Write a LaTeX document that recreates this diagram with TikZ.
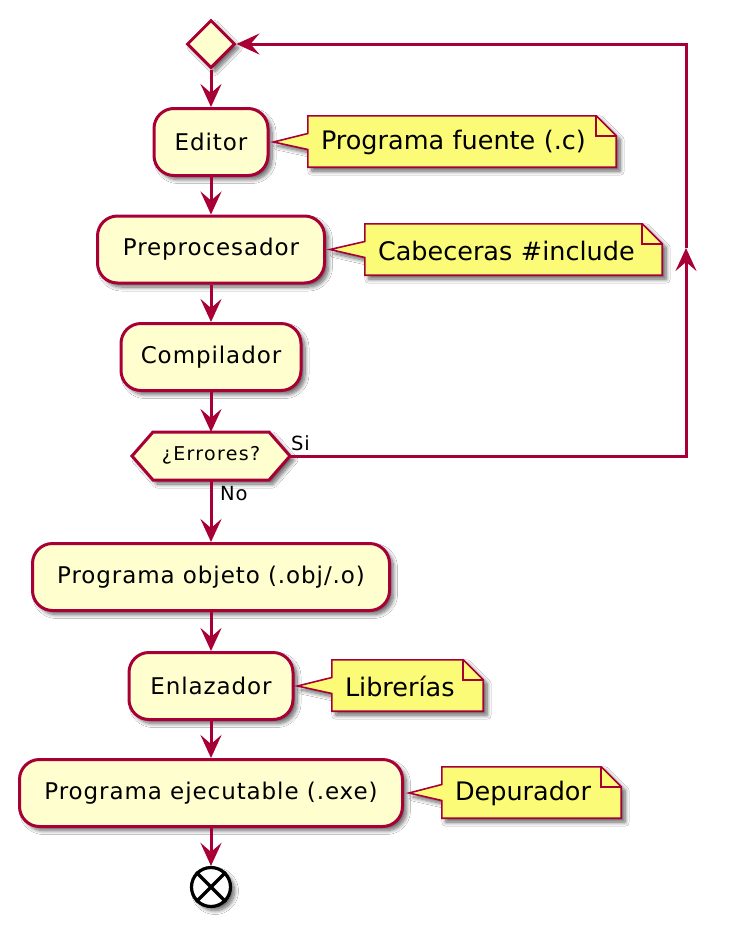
\documentclass[tikz,border=0pt]{standalone}
\usepackage{fontspec}
\setmainfont{DejaVu Sans}
\newfontfamily\boxfont[LetterSpace=4]{DejaVu Sans}
\newfontfamily\hexfont[LetterSpace=7]{DejaVu Sans}
\usetikzlibrary{arrows.meta,shapes.geometric,shadows.blur,calc}
\definecolor{pumlred}{HTML}{A80036}
\definecolor{boxfill}{HTML}{FEFECE}
\definecolor{notefill}{HTML}{FBFB77}
\tikzset{
  shd/.style={blur shadow={shadow xshift=4pt,shadow yshift=-4pt,shadow blur steps=8,shadow opacity=60,shadow blur radius=4pt}},
  actbox/.style={draw=pumlred,fill=boxfill,line width=3pt,rounded corners=20pt,minimum height=67pt,inner sep=0pt,shd,font=\boxfont\fontsize{23}{27}\selectfont},
  notetext/.style={inner xsep=13pt,inner ysep=0pt,align=left,font=\fontsize{25.5}{30}\selectfont},
  noteframe/.style={draw=pumlred,fill=notefill,line width=1.6pt,line join=miter,shd},
  flow/.style={draw=pumlred,line width=3pt,-{Stealth[length=23pt,width=21pt,inset=9pt]}},
  lbl/.style={inner sep=0pt,font=\boxfont\fontsize{19.5}{23}\selectfont},
}
\newcommand{\mynote}[3]{% #1 note node, #2 box node, #3 tip xshift
  \path[noteframe] (#1.north west) -- ($(#1.north east)+(-20,0)$) -- ($(#1.north east)+(0,20)$)
    -- (#1.south east) -- (#1.south west) -- ($(#1.west)+(0,8)$) -- ($(#2.east)+(#3,0)$)
    -- ($(#1.west)+(0,-8)$) -- cycle;
  \draw[pumlred,line width=1.6pt,line join=miter] ($(#1.north east)+(-20,0)$) -- ($(#1.north east)+(-20,20)$) -- ($(#1.north east)+(0,20)$);
  \node[notetext,text width=\notew,minimum height=51pt] at ($(#1.center)+(0,1)$) {\notetxt};
}
\begin{document}
\begin{tikzpicture}[x=1pt,y=-1pt]
\useasboundingbox[fill=white] (0,0) rectangle (736,927);
% start diamond
\node[diamond,draw=pumlred,fill=boxfill,line width=3pt,minimum width=48pt,minimum height=48pt,inner sep=0pt,shd] (start) at (211,44) {};
% activities
\node[actbox,minimum width=114pt] (editor) at (211,142) {Editor};
\node[actbox,minimum width=227pt] (prep) at (211,249.5) {Preprocesador};
\node[actbox,minimum width=180pt] (comp) at (211,357) {Compilador};
% hexagon
\coordinate (hexL) at (132,456);
\coordinate (hexR) at (290,456);
\coordinate (hexT) at (211,432);
\coordinate (hexB) at (211,480);
\path[draw=pumlred,fill=boxfill,line width=3pt,line join=miter,shd] (hexL) -- (153,432) -- (269,432) -- (hexR) -- (269,480) -- (153,480) -- cycle;
\node[inner sep=0pt,font=\hexfont\fontsize{19}{22}\selectfont] (err) at (211,455) {¿Errores?};
\node[actbox,minimum width=357pt] (obj) at (211,577) {Programa objeto (.obj/.o)};
\node[actbox,minimum width=164pt] (enl) at (211,686) {Enlazador};
\node[actbox,minimum width=383pt] (exe) at (211,793) {Programa ejecutable (.exe)};
% end
\node[circle,draw=black,fill=white,line width=3.2pt,minimum size=39pt,inner sep=0pt,shd] (end) at (211,887) {};
\draw[black,line width=3.4pt] (end.45) -- (end.225) (end.135) -- (end.315);
% notes (frames, named nodes)
\node[minimum width=308pt,minimum height=51pt,inner sep=0pt] (n1) at (462,141.5) {};
\node[minimum width=297pt,minimum height=51pt,inner sep=0pt] (n2) at (513.5,249.5) {};
\node[minimum width=151pt,minimum height=51pt,inner sep=0pt] (n3) at (407.5,685.5) {};
\node[minimum width=179pt,minimum height=51pt,inner sep=0pt] (n4) at (531.5,792.5) {};
\def\notew{282pt}\def\notetxt{Programa fuente (.c)}\mynote{n1}{editor}{4}
\def\notew{271pt}\def\notetxt{Cabeceras \#include}\mynote{n2}{prep}{4}
\def\notew{125pt}\def\notetxt{Librerías}\mynote{n3}{enl}{3}
\def\notew{153pt}\def\notetxt{Depurador}\mynote{n4}{exe}{5}
% connectors
\draw[flow] (start.south) -- (editor.north);
\draw[flow] (editor.south) -- (prep.north);
\draw[flow] (prep.south) -- (comp.north);
\draw[flow] (comp.south) -- (hexT);
\draw[flow] (hexB) -- (obj.north);
\draw[flow] (obj.south) -- (enl.north);
\draw[flow] (enl.south) -- (exe.north);
\draw[flow] (exe.south) -- (end.north);
% loop
\coordinate (loopA) at (686,456);
\coordinate (loopM) at (686,248);
\coordinate (loopB) at (686,44);
\draw[flow] (hexR) -- (loopA) -- (loopM);
\draw[flow,line join=miter] (loopM) -- (loopB) -- (start.east);
% labels
\node[lbl,anchor=base west] (si) at (291,450) {Si};
\node[lbl,anchor=base west] (no) at (220,500) {No};
\end{tikzpicture}
\end{document}
